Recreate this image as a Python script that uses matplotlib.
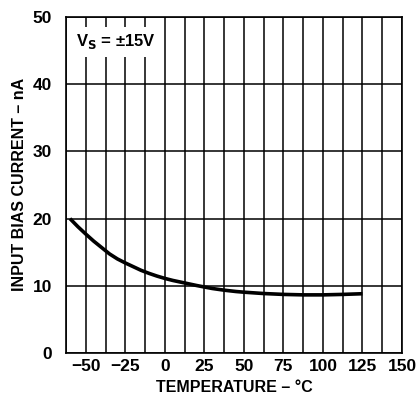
import numpy as np
import matplotlib.pyplot as plt
from matplotlib.ticker import MultipleLocator

# values
temp_c = [-60, -55, -50, -45, -40, -35, -30, -25, -20, -15, -10, -5, 0, 5, 10, 15, 20, 25,
          30, 37.5, 45, 50, 62.5, 75, 87.5, 100, 112.5, 125]
bias_na = [20.0, 18.8, 17.7, 16.65, 15.7, 14.75, 14.0, 13.4, 12.85, 12.3, 11.85, 11.45, 11.1,
           10.8, 10.55, 10.3, 10.05, 9.82, 9.6, 9.35, 9.15, 9.05, 8.85, 8.72, 8.65, 8.65,
           8.72, 8.82]

x_ticks = [-50, -25, 0, 25, 50, 75, 100, 125, 150]
y_ticks = [0, 10, 20, 30, 40, 50]

plt.rcParams['font.family'] = ['Liberation Sans', 'DejaVu Sans']
plt.rcParams['font.weight'] = 'bold'

fig = plt.figure(figsize=(4.16, 3.96), dpi=100)
ax = fig.add_axes([66 / 416, 1 - 353 / 396, 336 / 416, 336 / 396])

ax.plot(temp_c, bias_na, color='black', linewidth=2.6, solid_capstyle='butt',
        solid_joinstyle='round')

ax.set_xlim(-62.5, 150)
ax.set_ylim(0, 50)
ax.set_xticks(x_ticks)
ax.set_yticks(y_ticks)
ax.xaxis.set_minor_locator(MultipleLocator(12.5))
ax.grid(True, which='both', axis='x', color='black', linewidth=1.1)
ax.grid(True, which='major', axis='y', color='black', linewidth=1.1)
ax.tick_params(which='both', length=0, labelsize=12.5)
ax.tick_params(axis='x', pad=4)
ax.tick_params(axis='y', pad=10)
for lbl in ax.get_xticklabels() + ax.get_yticklabels():
    lbl.set_fontweight('bold')
for s in ax.spines.values():
    s.set_linewidth(1.2)

fig.text(234 / 416, 1 - 388 / 396, 'TEMPERATURE – °C', fontsize=11.5,
         fontweight='bold', ha='center', va='center')
fig.text(20 / 416, 1 - 184 / 396, 'INPUT BIAS CURRENT – nA', fontsize=11.5,
         fontweight='bold', ha='center', va='center', rotation=90)

ax.text(0.03, 0.955, r'V$_\mathbf{S}$ = ±15V', transform=ax.transAxes,
        fontsize=12, fontweight='bold', va='top', ha='left', zorder=5,
        bbox=dict(facecolor='white', edgecolor='none', pad=4))

fig.savefig('out.png', dpi=100)
